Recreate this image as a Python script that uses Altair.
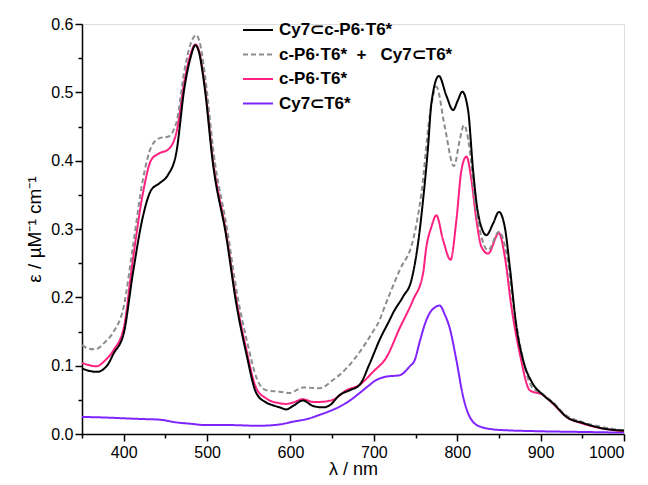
import altair as alt
import pandas as pd

# ---- data ----
black_nm = [350, 360, 368, 380, 388, 400, 411, 423, 433, 443, 453, 463, 473, 480, 486, 490, 497, 507, 523, 535, 547, 559, 571, 579, 587, 595, 603, 615, 627, 639, 647, 659, 671, 683, 695, 707, 719, 723, 735, 745, 753, 759, 765, 769, 778, 787, 795, 801, 806, 813, 819, 825, 835, 843, 850, 857, 863, 871, 879, 889, 903, 915, 931, 951, 975, 1000]
black_v = [0.096, 0.092, 0.091, 0.100, 0.118, 0.147, 0.235, 0.318, 0.357, 0.367, 0.379, 0.411, 0.508, 0.550, 0.569, 0.560, 0.508, 0.396, 0.289, 0.191, 0.118, 0.060, 0.046, 0.042, 0.039, 0.036, 0.041, 0.049, 0.041, 0.039, 0.042, 0.057, 0.064, 0.072, 0.103, 0.138, 0.167, 0.177, 0.201, 0.225, 0.279, 0.342, 0.420, 0.484, 0.524, 0.495, 0.474, 0.489, 0.501, 0.474, 0.386, 0.323, 0.291, 0.308, 0.325, 0.303, 0.245, 0.157, 0.108, 0.077, 0.057, 0.045, 0.025, 0.016, 0.008, 0.005]

sum_nm = [350, 358, 366, 378, 388, 400, 411, 423, 433, 443, 453, 463, 473, 480, 487, 491, 498, 508, 524, 536, 548, 560, 571, 587, 599, 615, 635, 651, 667, 683, 699, 707, 711, 731, 747, 757, 767, 775, 785, 796, 803, 808, 815, 821, 827, 837, 850, 859, 867, 877, 889, 903, 915, 931, 951, 975, 1000]
sum_v = [0.130, 0.125, 0.124, 0.135, 0.150, 0.186, 0.274, 0.372, 0.420, 0.433, 0.435, 0.455, 0.533, 0.570, 0.584, 0.574, 0.520, 0.410, 0.300, 0.205, 0.135, 0.080, 0.064, 0.062, 0.060, 0.068, 0.067, 0.079, 0.096, 0.120, 0.150, 0.167, 0.180, 0.240, 0.284, 0.352, 0.465, 0.508, 0.450, 0.392, 0.430, 0.452, 0.416, 0.342, 0.299, 0.269, 0.296, 0.264, 0.190, 0.120, 0.070, 0.058, 0.046, 0.027, 0.017, 0.010, 0.005]

pink_nm = [350, 358, 367, 378, 388, 400, 411, 423, 433, 443, 453, 463, 473, 480, 486, 490, 497, 507, 523, 535, 547, 559, 571, 587, 595, 603, 615, 627, 635, 651, 667, 683, 699, 715, 731, 747, 759, 763, 769, 775, 783, 792, 799, 805, 811, 817, 823, 829, 837, 850, 857, 865, 875, 887, 903, 915, 931, 951, 975, 1000]
pink_v = [0.104, 0.101, 0.099, 0.108, 0.123, 0.155, 0.255, 0.352, 0.401, 0.411, 0.416, 0.440, 0.518, 0.555, 0.570, 0.562, 0.513, 0.402, 0.294, 0.197, 0.124, 0.067, 0.052, 0.045, 0.044, 0.046, 0.051, 0.047, 0.047, 0.050, 0.064, 0.072, 0.091, 0.112, 0.155, 0.196, 0.235, 0.274, 0.303, 0.320, 0.284, 0.255, 0.313, 0.386, 0.406, 0.372, 0.313, 0.274, 0.264, 0.294, 0.260, 0.186, 0.118, 0.064, 0.057, 0.044, 0.025, 0.015, 0.008, 0.004]

purple_nm = [350, 380, 400, 420, 443, 463, 480, 499, 530, 560, 587, 603, 620, 635, 650, 659, 670, 683, 693, 703, 715, 731, 743, 749, 755, 761, 767, 773, 779, 785, 791, 799, 807, 815, 827, 850, 900, 950, 1000]
purple_v = [0.025, 0.024, 0.023, 0.022, 0.021, 0.017, 0.015, 0.013, 0.013, 0.012, 0.014, 0.018, 0.022, 0.028, 0.035, 0.040, 0.048, 0.060, 0.070, 0.079, 0.084, 0.086, 0.099, 0.108, 0.135, 0.160, 0.177, 0.185, 0.188, 0.175, 0.155, 0.108, 0.055, 0.025, 0.011, 0.006, 0.004, 0.003, 0.002]

series_names = ["Cy7⊂c-P6·T6*", "c-P6·T6*\u00a0\u00a0+\u00a0\u00a0\u00a0Cy7⊂T6*", "c-P6·T6*", "Cy7⊂T6*"]
series_colors = ["#000000", "#8c8c8c", "#ff2080", "#8024ff"]
series_dash = [[1, 0], [5, 3], [1, 0], [1, 0]]

rows = []
# draw order: purple, pink, dashed, black (black on top)
for name, xs, ys in [
    (series_names[3], purple_nm, purple_v),
    (series_names[2], pink_nm, pink_v),
    (series_names[1], sum_nm, sum_v),
    (series_names[0], black_nm, black_v),
]:
    for i, (a, b) in enumerate(zip(xs, ys)):
        rows.append({"series": name, "nm": a, "eps": b, "idx": i})
df = pd.DataFrame(rows)

FONT = "Liberation Sans"

x_ticks = list(range(350, 1001, 50))
y_ticks = [round(i * 0.05, 2) for i in range(13)]

chart = alt.Chart(df).mark_line(strokeWidth=2, interpolate="monotone").encode(
    x=alt.X("nm:Q",
            scale=alt.Scale(domain=[350, 1000], nice=False, zero=False),
            axis=alt.Axis(
                title="λ / nm",
                values=x_ticks,
                format="d",
                labelExpr="datum.value % 100 === 0 ? datum.label : ''",
                tickSize={"condition": {"test": "datum.value % 100 !== 0", "value": 4}, "value": 7},
                grid=False, domainColor="black", tickColor="black",
                domainWidth=1.5, tickWidth=1.5,
                labelFont=FONT, labelFontSize=16, labelColor="black", labelPadding=3,
                titleFont=FONT, titleFontSize=18, titleFontWeight="normal", titleColor="black",
                titlePadding=0,
            )),
    y=alt.Y("eps:Q",
            scale=alt.Scale(domain=[0, 0.6], nice=False),
            axis=alt.Axis(
                title="ε / µM⁻¹ cm⁻¹",
                values=y_ticks,
                labelExpr="round(datum.value*100) % 10 === 0 ? format(datum.value, '.1f') : ''",
                tickSize={"condition": {"test": "round(datum.value*100) % 10 !== 0", "value": 4}, "value": 7},
                grid=False, domainColor="black", tickColor="black",
                domainWidth=1.5, tickWidth=1.5,
                labelFont=FONT, labelFontSize=16, labelColor="black", labelPadding=2,
                titleFont=FONT, titleFontSize=19, titleFontWeight="normal", titleColor="black",
                titlePadding=6,
            )),
    color=alt.Color("series:N",
                    scale=alt.Scale(domain=series_names, range=series_colors),
                    legend=alt.Legend(
                        title=None, orient="none", legendX=160, legendY=-10,
                        symbolType="stroke", symbolSize=900, symbolStrokeWidth=2,
                        labelFont=FONT, labelFontSize=17, labelFontWeight="bold",
                        labelColor="black", labelLimit=0, labelOffset=5,
                        rowPadding=0.5, padding=0,
                    )),
    strokeDash=alt.StrokeDash("series:N",
                              scale=alt.Scale(domain=series_names, range=series_dash),
                              legend=None),
    order="idx:Q",
).properties(
    width=542, height=410,
    padding={"left": 74, "top": 16, "right": 16, "bottom": 43},
    autosize=alt.AutoSizeParams(type="none"),
).configure_view(stroke=None).configure(background="white")

chart.save("out.html", embed_options={"renderer": "svg", "actions": False})
